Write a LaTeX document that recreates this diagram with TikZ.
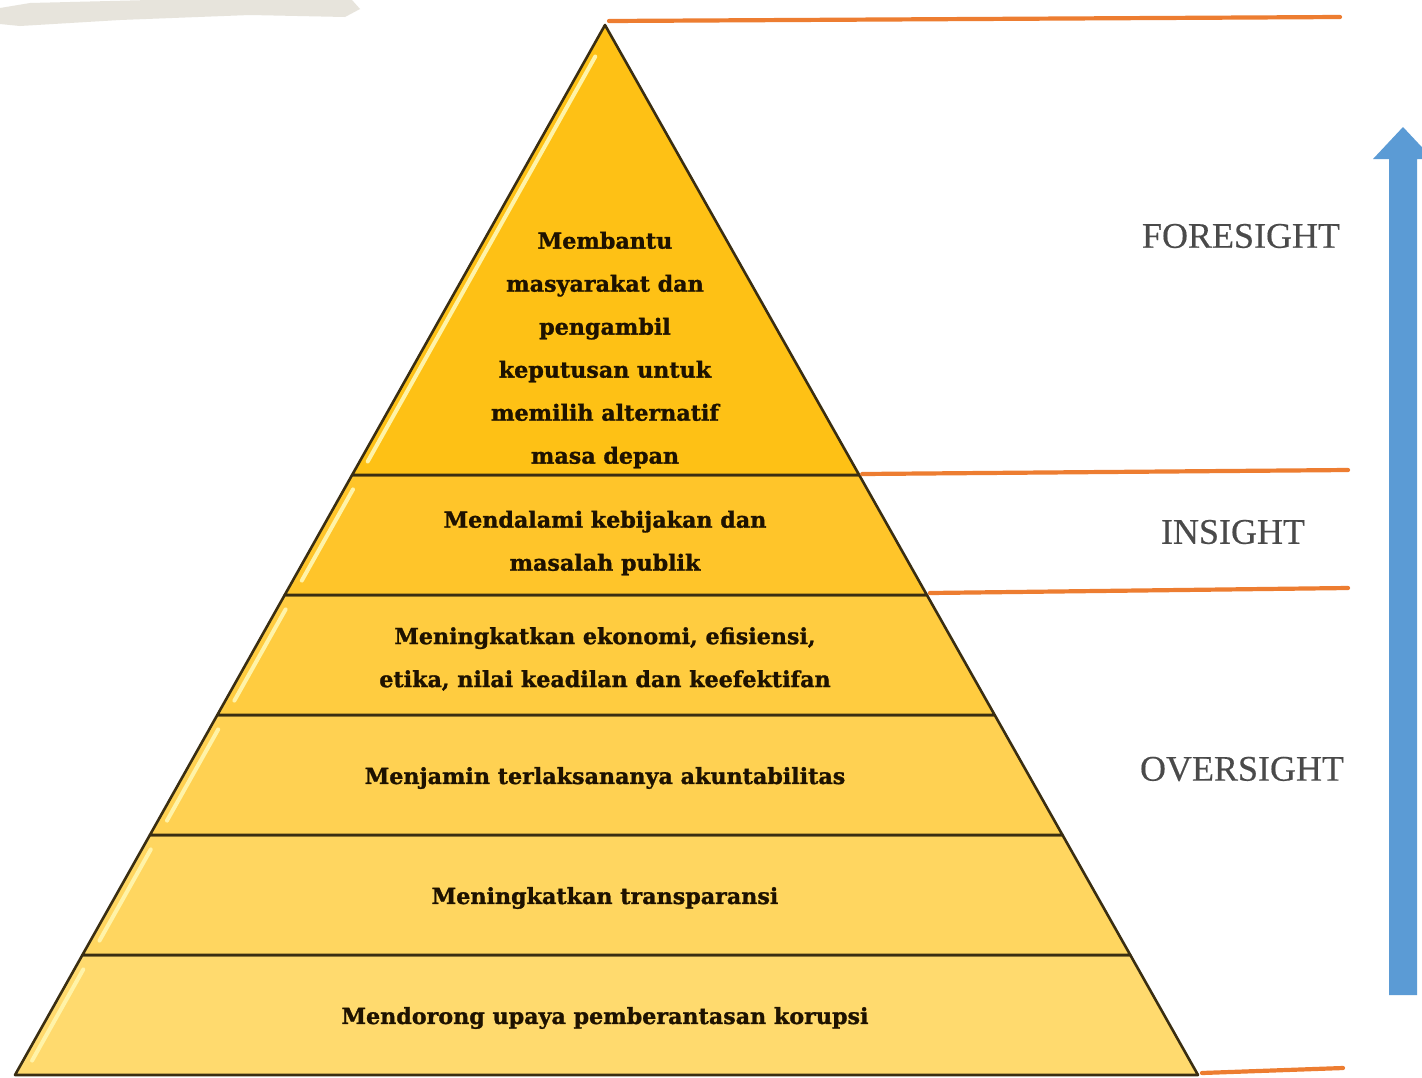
\documentclass[tikz,border=0pt]{standalone}
\usepackage{fontspec}
\usetikzlibrary{calc}
\newfontfamily\blockfont[BoldFeatures={FakeBold=1.2}]{DejaVu Serif}
\newfontfamily\sidefont[FakeBold=0.4]{Liberation Serif}
\definecolor{edge}{HTML}{3A2E12}
\definecolor{orangeline}{HTML}{ED7D31}
\definecolor{bluearrow}{HTML}{5B9BD5}
\definecolor{txt}{HTML}{1E1200}
\definecolor{sidetxt}{HTML}{4A4A4A}
\definecolor{fA}{HTML}{FEC115}
\definecolor{fB}{HTML}{FFC52A}
\definecolor{fC}{HTML}{FFCC40}
\definecolor{fD}{HTML}{FFD152}
\definecolor{fE}{HTML}{FFD660}
\definecolor{fF}{HTML}{FFDA6E}
\definecolor{shine}{HTML}{FFF3A8}
\definecolor{smudge}{HTML}{E7E4DC}
\begin{document}
\begin{tikzpicture}[x=1pt,y=-1pt,
  layer/.style={draw=edge,line width=2.6pt,line join=round},
  glint/.style={draw=shine,line width=4pt,line cap=round},
  guide/.style={draw=orangeline,line width=4.2pt,line cap=round},
  blocktext/.style={text=txt,font=\blockfont\bfseries\fontsize{22.2}{43}\selectfont,align=center,inner sep=0pt},
  sidelabel/.style={text=sidetxt,font=\sidefont\fontsize{36}{40}\selectfont,inner sep=0pt}]
\useasboundingbox (0,0) rectangle (1422,1077);
\fill[white] (0,0) rectangle (1422,1077);
% smudge at top left
\fill[smudge] (0,8) -- (30,3) -- (150,0) -- (352,0) -- (360,9) -- (345,17) -- (250,15) -- (120,20) -- (20,26) -- (0,24) -- cycle;
% pyramid corner coordinates
\coordinate (A) at (605,25);
\coordinate (L1) at (352.1,475); \coordinate (R1) at (859.2,475);
\coordinate (L2) at (284.7,595); \coordinate (R2) at (926.9,595);
\coordinate (L3) at (217.3,715); \coordinate (R3) at (994.7,715);
\coordinate (L4) at (149.9,835); \coordinate (R4) at (1062.5,835);
\coordinate (L5) at (82.4,955);  \coordinate (R5) at (1130.3,955);
\coordinate (L6) at (15,1075);   \coordinate (R6) at (1198,1075);
% layers
\filldraw[layer,fill=fF] (L5) -- (R5) -- (R6) -- (L6) -- cycle;
\filldraw[layer,fill=fE] (L4) -- (R4) -- (R5) -- (L5) -- cycle;
\filldraw[layer,fill=fD] (L3) -- (R3) -- (R4) -- (L4) -- cycle;
\filldraw[layer,fill=fC] (L2) -- (R2) -- (R3) -- (L3) -- cycle;
\filldraw[layer,fill=fB] (L1) -- (R1) -- (R2) -- (L2) -- cycle;
\filldraw[layer,fill=fA] (A) -- (R1) -- (L1) -- cycle;
% glints along the left edges
\draw[glint] ($(A)!0.07!(L1)+(8,0)$) -- ($(A)!0.97!(L1)+(8,0)$);
\draw[glint] ($(L1)!0.12!(L2)+(9,0)$) -- ($(L1)!0.88!(L2)+(9,0)$);
\draw[glint] ($(L2)!0.12!(L3)+(9,0)$) -- ($(L2)!0.88!(L3)+(9,0)$);
\draw[glint] ($(L3)!0.12!(L4)+(9,0)$) -- ($(L3)!0.88!(L4)+(9,0)$);
\draw[glint] ($(L4)!0.12!(L5)+(9,0)$) -- ($(L4)!0.88!(L5)+(9,0)$);
\draw[glint] ($(L5)!0.12!(L6)+(9,0)$) -- ($(L5)!0.88!(L6)+(9,0)$);
% texts of the layers
\node[blocktext] (t1) at (605,350) {Membantu\\masyarakat dan\\pengambil\\keputusan untuk\\memilih alternatif\\masa depan};
\node[blocktext] (t2) at (605,543) {Mendalami kebijakan dan\\masalah publik};
\node[blocktext] (t3) at (605,659) {Meningkatkan ekonomi, efisiensi,\\etika, nilai keadilan dan keefektifan};
\node[blocktext] (t4) at (605,778) {Menjamin terlaksananya akuntabilitas};
\node[blocktext] (t5) at (605,898) {Meningkatkan transparansi};
\node[blocktext] (t6) at (605,1018) {Mendorong upaya pemberantasan korupsi};
% orange guide lines
\coordinate (g1) at (1340,17);
\coordinate (g2) at (1348,470);
\coordinate (g3) at (1348,588);
\coordinate (g4) at (1343,1068);
\draw[guide] ($(A)+(4,-4)$) -- (g1);
\draw[guide] ($(R1)+(3,-1)$) -- (g2);
\draw[guide] ($(R2)+(3,-2)$) -- (g3);
\draw[guide] ($(R6)+(4,-2)$) -- (g4);
% side labels
\node[sidelabel] (fs) at (1241,236) {FORESIGHT};
\node[sidelabel] (is) at (1233,532) {INSIGHT};
\node[sidelabel] (os) at (1242,769) {OVERSIGHT};
% blue arrow
\fill[bluearrow] (1389,995) -- (1389,159) -- (1373,159) -- (1403,127) -- (1433,159) -- (1417,159) -- (1417,995) -- cycle;
\end{tikzpicture}
\end{document}
